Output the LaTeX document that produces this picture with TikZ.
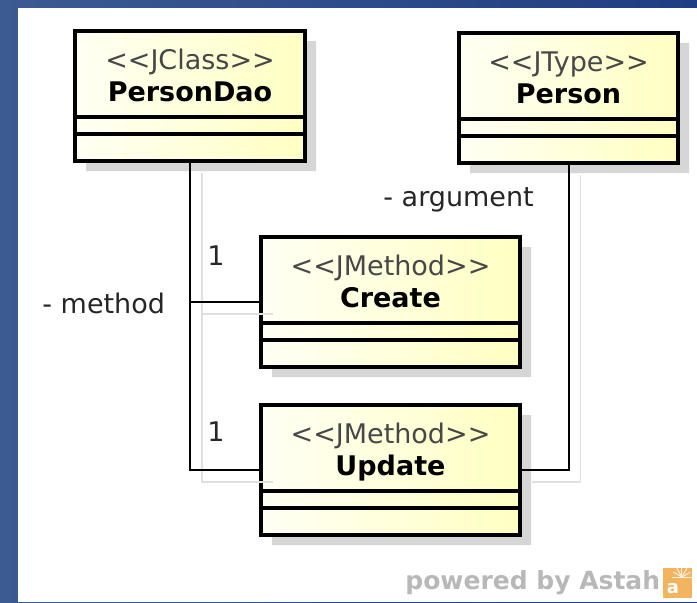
\documentclass[tikz,border=0pt]{standalone}
\usepackage{fontspec}
\setmainfont{DejaVu Sans}
\usetikzlibrary{positioning}
\usetikzlibrary{shapes,shadows}
\definecolor{framelight}{HTML}{3B5B92}
\definecolor{framedark}{HTML}{1F3D82}
\definecolor{boxlight}{HTML}{FFFFF4}
\definecolor{boxyellow}{HTML}{FFFFC2}
\definecolor{logoorange}{HTML}{F2B45E}
\tikzstyle{jbox}=[
  rectangle split,
  rectangle split parts=3,
  draw=black,
  line width=1pt,
  inner sep=0pt,
  outer sep=0pt,
  left color=boxlight,
  right color=boxyellow,
  drop shadow={shadow xshift=5.5pt,shadow yshift=-5pt,fill=black!16,opacity=1},
  postaction={draw=black,line width=2pt}
]
\tikzstyle{conn}=[draw=black,line width=1pt]
\tikzstyle{connshadow}=[draw=black!12,line width=0.8pt,transform canvas={xshift=6pt,yshift=-6pt}]
\tikzstyle{lbl}=[inner sep=0pt,text=black!85,font=\fontsize{13.5}{16}\selectfont]
% head compartment: stereotype over bold name
\newcommand{\jhead}[3]{\parbox{#1}{\centering\fontsize{13.5}{16}\selectfont
  {\color{black!72}\rule{0pt}{18.5pt}<\kern0pt<#2>\kern0pt>}\\
  \textbf{#3}\rule[-7.5pt]{0pt}{7.5pt}}}

\begin{document}
\begin{tikzpicture}[x=0.5pt,y=-0.5pt]
    \useasboundingbox (0,0) rectangle (697,602);
    \shade[left color=framelight,right color=framedark] (0,0) rectangle (697,602);
    \fill[white] (18,8) rectangle (697,602);

    \node[jbox,anchor=north west] (persondao) at (75,31) {\jhead{115pt}{JClass}{PersonDao}%
      \nodepart{two}\rule{0pt}{7.5pt}\nodepart{three}\rule{0pt}{12.5pt}};
    \node[jbox,anchor=north west] (person) at (459,33) {\jhead{109.5pt}{JType}{Person}%
      \nodepart{two}\rule{0pt}{7.5pt}\nodepart{three}\rule{0pt}{12.5pt}};
    \node[jbox,anchor=north west] (create) at (261,237) {\jhead{129.5pt}{JMethod}{Create}%
      \nodepart{two}\rule{0pt}{7.5pt}\nodepart{three}\rule{0pt}{12.5pt}};
    \node[jbox,below=19pt of create] (update) {\jhead{129.5pt}{JMethod}{Update}%
      \nodepart{two}\rule{0pt}{7.5pt}\nodepart{three}\rule{0pt}{12.5pt}};

    % associations
    \draw[connshadow] (persondao.south) |- (create.west);
    \draw[connshadow] (persondao.south) |- (update.west);
    \draw[connshadow] (person.south) |- (update.east);
    \draw[conn] (persondao.south) |- (create.west);
    \draw[conn] (persondao.south) |- (update.west);
    \draw[conn] (person.south) |- (update.east);

    \node[lbl,anchor=base west] (method) at (42,313) {- method};
    \node[lbl,anchor=base west] (argument) at (383,206) {- argument};
    \node[lbl] (onecreate) at (216,256) {1};
    \node[lbl] (oneupdate) at (216,432) {1};

    \node[anchor=base west,inner sep=0pt,text=black!28,font=\bfseries\fontsize{12.5}{15}\selectfont] (powered) at (405,589) {powered by Astah};
    \node[fill=logoorange,minimum width=14.5pt,minimum height=15pt,inner sep=0pt,anchor=west] (logo) at (663,583) {};
    \foreach \ang in {0,30,...,180}
      \draw[white!80!logoorange,line width=0.5pt] ([xshift=2pt,yshift=3pt]logo.center) -- +(\ang:5pt);
    \node[text=white,inner sep=0pt,font=\bfseries\fontsize{9}{9}\selectfont] (logoa) at ([xshift=-2.5pt,yshift=-3pt]logo.center) {a};
\end{tikzpicture}
\end{document}
